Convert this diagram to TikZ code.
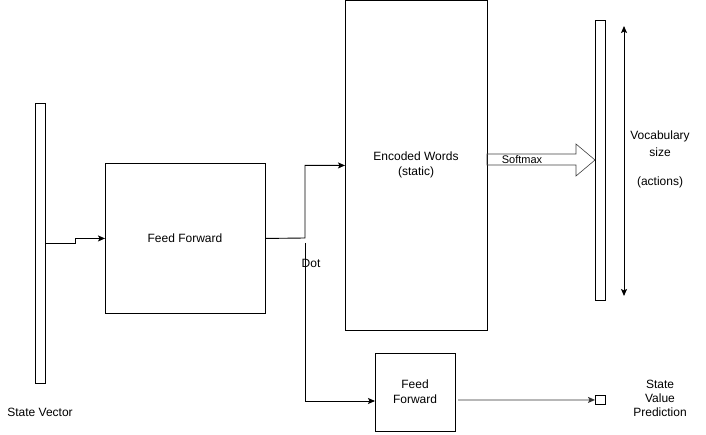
\documentclass[tikz,border=0pt]{standalone}
\usepackage{fontspec}
\setmainfont{Liberation Sans}
\usetikzlibrary{arrows.meta}
\begin{document}
\begin{tikzpicture}[x=1pt,y=-1pt,
  box/.style={draw, line width=0.9pt, anchor=north west, inner sep=0pt},
  lbl/.style={font=\fontsize{12}{14}\selectfont, inner sep=0pt, align=center},
  arr/.style={line width=0.9pt, -{Stealth[length=7pt,width=6pt,inset=1.5pt]}},
  darr/.style={line width=0.9pt, {Stealth[length=7pt,width=6pt,inset=1.5pt]}-{Stealth[length=7pt,width=6pt,inset=1.5pt]}}]
\useasboundingbox (0,0) rectangle (706,435);
% boxes
\node[box, minimum width=10pt, minimum height=280pt] (sv) at (35,103) {};
\node[box, minimum width=160pt, minimum height=150pt] (ff) at (105,163) {};
\node[lbl] (fft) at (185,238) {Feed Forward};
\node[box, minimum width=142pt, minimum height=330pt] (ew) at (345,0) {};
\node[lbl, font=\fontsize{12}{15}\selectfont] (ewt) at (416,165) {Encoded Words\\(static)};
\node[box, minimum width=10pt, minimum height=280pt] (vb) at (595,20) {};
\node[box, minimum width=80pt, minimum height=78pt] (ff2) at (375,353) {};
\node[lbl, font=\fontsize{12}{15}\selectfont] (ff2t) at (415,392) {Feed\\Forward};
\node[box, minimum width=10pt, minimum height=9pt] (sq) at (595,395) {};
% texts
\node[lbl] (svt) at (40,412) {State Vector};
\node[lbl, font=\fontsize{12}{17}\selectfont] (voc) at (660,144) {Vocabulary\\size};
\node[lbl] (act) at (660,182) {(actions)};
\node[lbl] (svp) at (660,398) {State\\Value\\Prediction};
\node[lbl] (dott) at (311,263) {Dot};
% softmax arrow
\draw[line width=0.6pt, draw=black!75] (487,154) -- (576,154) -- (576,144) -- (595,160) -- (576,176) -- (576,165) -- (487,165) -- cycle;
\node[lbl, fill=white, inner sep=0pt, font=\fontsize{11}{12}\selectfont] (smx) at (522,160) {Softmax};
% connectors
\draw[arr] (sv.east) -- ++(30,0) -- ++(0,-5) -- (ff.west);
\coordinate (dot) at (305,238);
\draw[arr] (ff.east) -- (dot) |- (ew.west);
\coordinate (dotlow) at (305,243);
\coordinate (ffin) at (375,401);
\draw[arr] (dotlow) |- (ffin);
\coordinate (ffout) at (458,400);
\draw[arr, draw=black!80] (ffout) -- (sq.west);
\coordinate (va1) at (624,26);
\coordinate (va2) at (624,296);
\draw[darr] (va1) -- (va2);
\end{tikzpicture}
\end{document}
